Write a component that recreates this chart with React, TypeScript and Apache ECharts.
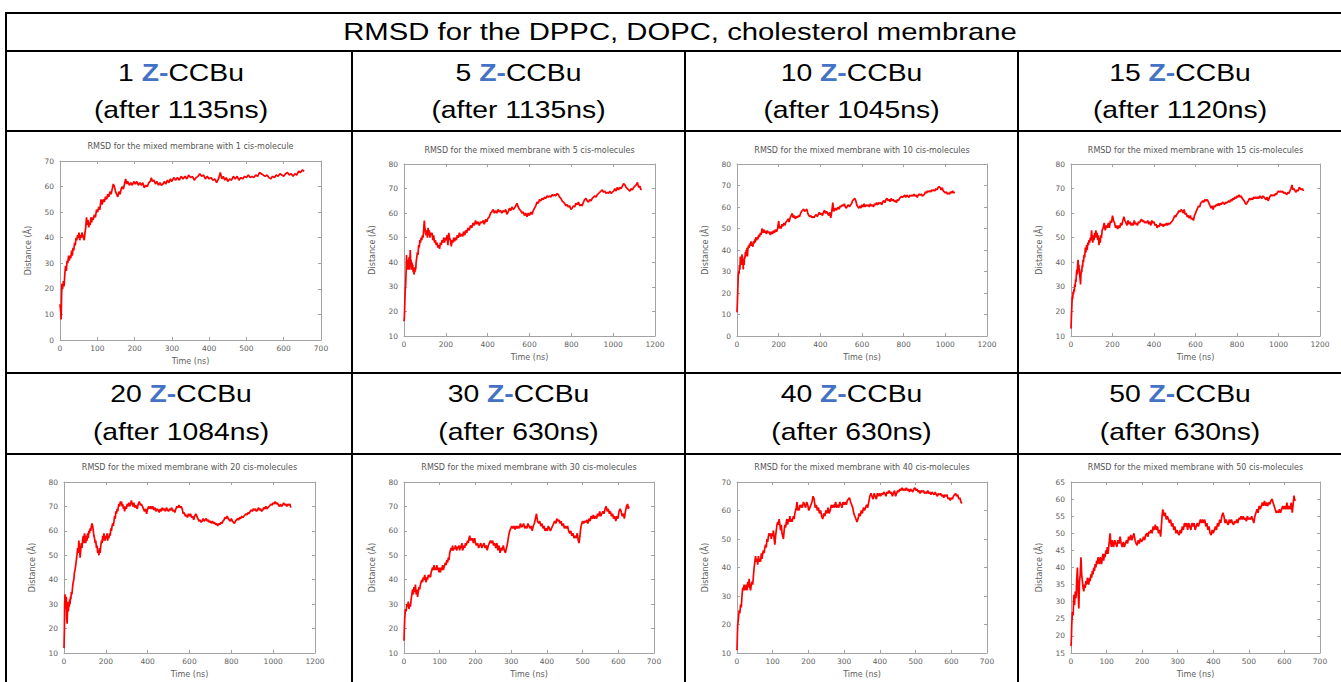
import React, { useEffect, useRef } from 'react';
import * as echarts from 'echarts';

const pageTitle = 'RMSD for the DPPC, DOPC, cholesterol membrane';
const moleculeCounts = ['1', '5', '10', '15', '20', '30', '40', '50'];
const afterLabels = ['(after 1135ns)', '(after 1135ns)', '(after 1045ns)', '(after 1120ns)', '(after 1084ns)', '(after 630ns)', '(after 630ns)', '(after 630ns)'];
const plotTitles = [
  'RMSD for the mixed membrane with 1 cis-molecule',
  'RMSD for the mixed membrane with 5 cis-molecules',
  'RMSD for the mixed membrane with 10 cis-molecules',
  'RMSD for the mixed membrane with 15 cis-molecules',
  'RMSD for the mixed membrane with 20 cis-molecules',
  'RMSD for the mixed membrane with 30 cis-molecules',
  'RMSD for the mixed membrane with 40 cis-molecules',
  'RMSD for the mixed membrane with 50 cis-molecules',
];
const xAxisName = 'Time (ns)';
const yAxisName = 'Distance (Å)';
const xMax = [700, 1200, 1200, 1200, 1200, 700, 700, 700];
const xStep = [100, 200, 200, 200, 200, 100, 100, 100];
const yMin = [0, 10, 0, 10, 10, 10, 10, 15];
const yMax = [70, 80, 80, 80, 80, 80, 70, 65];
const yStep = [10, 10, 10, 10, 10, 10, 10, 5];

const rmsd1 = [[0,14],[2,11],[3,8],[4,15],[5,22],[7,20],[9,23],[11,21],[13,26],[15,29],[17,27],[19,31],[21,30],[23,33],[25,31],[27,33],[29,32],[31,35],[33,33],[35,36],[37,35],[39,38],[41,37],[43,40],[45,39],[47,41],[49,40],[51,42],[53,39],[55,41],[57,40],[59,42],[61,41],[63,40],[65,39],[67,42],[69,44],[71,48],[73,45],[75,47],[77,44],[79,46],[81,45],[83,48],[85,46],[87,48],[89,47],[92,49],[95,48],[98,51],[101,50],[104,52],[107,51],[110,55],[113,53],[116,55],[119,54],[122,56],[125,55],[128,57],[131,56],[134,58],[137,57],[140,59],[143,61],[146,60],[149,58],[152,57],[155,56],[158,58],[161,57],[164,59],[167,60],[170,59],[173,61],[176,63],[179,61],[182,62],[186,60.5],[190,61.5],[194,60.5],[198,62],[202,61],[206,62],[210,60.5],[214,61.5],[218,60.5],[222,61.5],[226,59.5],[230,60.5],[234,60],[238,61.5],[242,62],[245,63.5],[248,62],[252,62.5],[256,61],[260,62],[264,60.5],[268,61.5],[272,60.5],[276,61],[280,62],[284,61],[288,62.5],[292,61.5],[296,63],[300,62],[305,63.5],[310,62.5],[315,63.5],[320,62.5],[325,64],[330,63],[335,64],[340,63],[345,64.5],[350,63.5],[355,64],[360,62.5],[365,63.5],[370,64],[375,65],[380,64],[385,64.5],[390,63],[395,64],[400,63],[405,63.5],[410,62.5],[415,63],[420,61.5],[425,63],[430,65.5],[434,63],[438,64],[442,62.5],[446,63.5],[450,62],[455,63],[460,62.5],[465,64],[470,63],[475,64],[480,62.5],[485,63.5],[490,63],[495,64],[500,63.5],[505,64.5],[510,63.5],[515,64],[520,63.5],[525,64.5],[530,64],[535,65.5],[540,65],[545,64.5],[550,64],[555,64.5],[560,63.5],[565,63],[570,64],[575,63.5],[580,64.5],[585,64],[590,65],[595,64.5],[600,64],[605,65],[610,65.5],[615,64.5],[620,65],[625,64],[630,65],[635,64.5],[640,66],[645,65.5],[650,66.5],[655,66]];

const rmsd5 = [[0,16],[2,18],[4,24],[6,29],[8,31],[10,36],[12,43],[14,39],[16,41],[18,37],[20,40],[22,38],[24,42],[26,37],[28,41],[30,45],[32,39],[34,41],[36,37],[38,40],[40,38],[42,39],[44,36],[46,38],[48,35],[50,37],[52,36],[54,38],[56,37],[58,40],[61,42],[64,44],[67,43],[70,47],[73,46],[76,49],[79,48],[82,50],[85,49],[88,51],[91,50],[94,53],[97,57],[100,54],[103,52],[106,51],[109,53],[112,50],[115,54],[118,51],[121,53],[124,50],[127,52],[130,51],[134,52],[138,49],[142,51],[146,48],[150,49],[154,47],[158,48],[162,46],[166,47],[170,45.5],[174,48],[178,47],[182,49],[186,48],[190,50],[194,48],[198,50],[202,49],[206,51],[210,47],[214,52],[218,50],[222,49],[226,46.5],[230,49],[234,48],[238,50],[242,48.5],[246,50],[250,49],[255,51],[260,50],[265,52],[270,50.5],[275,51.5],[280,50.5],[285,52.5],[290,51],[295,53],[300,52],[306,54],[312,53],[318,55],[324,54],[330,56],[336,55],[342,57],[348,55.5],[354,56.5],[360,55],[366,56.5],[372,56],[378,57],[384,55.5],[390,57.5],[396,56.5],[402,58],[408,58.5],[414,60],[420,60.5],[426,61.5],[432,60],[438,61],[444,60],[450,61.5],[456,60.5],[462,61],[468,60],[474,61],[480,60.5],[486,61.5],[492,59.5],[498,60.5],[504,62],[510,61],[516,62.5],[522,61.5],[528,62],[534,63],[540,64],[546,62.5],[552,61.5],[558,61],[564,60],[570,60.5],[576,59],[582,60],[588,58.5],[594,60],[600,59],[606,60.5],[612,59.5],[618,61],[624,62],[630,63],[636,64.5],[642,64],[648,65.5],[654,65],[660,66],[666,65.5],[672,66.5],[678,66],[684,67],[690,66.5],[696,67],[702,66.5],[708,67.5],[714,67],[720,67.5],[726,67],[732,68],[738,67.5],[744,66.5],[750,66],[756,65],[762,64.5],[768,64],[774,63],[780,63.5],[786,62.5],[792,63],[798,61.5],[804,62],[810,63],[816,62.5],[822,64],[828,63.5],[834,64.5],[840,63],[846,63.5],[852,63],[858,64.5],[864,65.5],[870,66],[876,65],[882,64.5],[888,65.5],[894,65],[900,66],[906,66.5],[912,67],[918,66.5],[924,67.5],[930,68],[936,68.5],[942,69],[948,69.5],[954,68.5],[960,69],[966,68],[972,68.5],[978,68],[984,69],[990,68],[996,68.5],[1002,69],[1008,70],[1014,69],[1020,70.5],[1026,69.5],[1032,70.5],[1038,70],[1044,71],[1050,72],[1056,71.5],[1062,70.5],[1068,70],[1074,69.5],[1080,69],[1086,70],[1092,69.5],[1098,70.5],[1104,71],[1110,71.5],[1116,72.5],[1122,70.5],[1128,71],[1132,69.5],[1135,70]];

const rmsd10 = [[0,11],[2,16],[4,22],[6,28],[8,30],[10,29],[12,33],[14,31],[16,37],[18,34],[20,36],[22,33],[24,38],[26,34],[28,36],[30,31],[32,35],[34,33],[36,37],[38,36],[40,39],[42,37],[44,40],[46,38],[48,41],[50,37],[52,40],[55,42],[58,41],[61,43],[64,42],[67,44],[70,42],[73,43],[76,41.5],[79,44],[82,43],[85,45],[88,43.5],[91,46],[94,44.5],[97,46],[100,45],[104,47],[108,46],[112,48],[116,47],[120,50],[124,48],[128,49.5],[132,48],[136,49],[140,47.5],[145,49],[150,48],[155,48.5],[160,47],[165,48.5],[170,47.5],[175,49],[180,48],[185,49.5],[190,48.5],[195,50],[200,53.5],[204,50],[208,51],[212,50],[216,52],[220,51],[225,52.5],[230,51.5],[235,53],[240,53.5],[245,54.5],[250,53],[255,55],[260,56],[265,57],[270,55],[275,56],[280,54.5],[285,55.5],[290,55],[295,56],[300,55.5],[305,57],[310,58],[315,58.5],[320,59],[325,58],[330,58.5],[335,59],[340,57],[345,56],[350,55.5],[355,56],[360,55],[365,55.5],[370,55],[375,56],[380,56.5],[385,55.5],[390,56.5],[395,57.5],[400,56.5],[405,57],[410,56],[415,57.5],[420,58.5],[425,57],[430,58],[435,57],[440,56],[445,57.5],[450,55],[455,58],[460,62],[464,58],[468,58.5],[472,59.5],[476,58.5],[480,59],[485,60],[490,59],[495,60.5],[500,60],[505,61],[510,60.5],[515,61.5],[520,60],[525,59.5],[530,60.5],[535,61],[540,60],[545,61],[550,61.5],[555,63],[560,63.5],[565,64],[570,63],[575,61],[580,60],[585,59.5],[590,60.5],[595,59.5],[600,61],[605,60],[610,61.5],[615,60],[620,61],[625,60.5],[630,61],[635,60],[640,61.5],[645,60.5],[650,61],[655,60],[660,61.5],[665,61],[670,62],[675,61],[680,62],[685,61.5],[690,62],[695,61],[700,62.5],[705,63],[710,62],[715,63.5],[720,64],[725,63],[730,63.5],[735,62.5],[740,64],[745,63],[750,63.5],[755,62.5],[760,63],[765,62],[770,63.5],[775,63],[780,64],[785,64.5],[790,65],[795,64.5],[800,65],[805,65.5],[810,64.5],[815,65.5],[820,65],[825,64.5],[830,65.5],[835,65],[840,65.5],[845,65],[850,66],[855,65],[860,65.5],[865,64.5],[870,65.5],[875,66],[880,65.5],[885,66],[890,65],[895,65.5],[900,66],[905,67],[910,66.5],[915,67.5],[920,67],[925,67.5],[930,67],[935,68],[940,67.5],[945,68],[950,67.5],[955,68.5],[960,68],[965,69],[970,69.5],[975,69],[980,68],[985,69],[990,67.5],[995,67],[1000,66.5],[1005,67],[1010,66],[1015,66.5],[1020,66],[1025,67],[1030,66.5],[1035,67.5],[1040,66.5],[1045,67]];

const rmsd15 = [[0,13],[2,18],[4,22],[6,26],[8,25],[10,28],[12,27],[14,29],[16,28],[18,31],[20,30],[22,33],[24,32],[26,35],[28,37],[30,35],[32,39],[34,41],[36,38],[38,39],[40,36],[42,35],[44,33],[46,31],[48,35],[50,37],[52,36],[54,39],[56,38],[58,41],[60,40],[63,43],[66,42],[69,46],[72,44],[75,47],[78,45],[81,48],[84,47],[87,49],[90,48],[93,50],[96,49],[99,53],[102,50],[105,48],[108,51],[111,49],[114,52],[117,50],[120,53],[123,50],[126,52],[129,49],[132,51],[135,47],[138,50],[141,48],[144,51],[147,50],[150,53],[155,54],[160,56],[165,53],[170,55],[175,54],[180,56],[185,54],[190,57],[195,56],[200,59],[205,57],[210,56],[215,54],[220,55],[225,53.5],[230,55],[235,54],[240,56],[245,55],[250,57],[255,58.5],[260,57],[265,56],[270,55],[275,57],[280,55.5],[285,56.5],[290,55],[295,56],[300,55],[305,57],[310,55.5],[315,56],[320,55],[325,56.5],[330,56],[335,57],[340,57.5],[345,56.5],[350,57],[355,56],[360,56.5],[365,56],[370,57],[375,55.5],[380,56.5],[385,55],[390,57],[395,56],[400,56.5],[405,55],[410,55.5],[415,54],[420,55],[425,54.5],[430,56],[435,55],[440,55.5],[445,54.5],[450,55.5],[455,55],[460,56],[465,55],[470,56],[475,55.5],[480,56],[485,56.5],[490,57],[495,58],[500,59],[505,58.5],[510,59.5],[515,60],[520,61],[525,60.5],[530,61.5],[535,61],[540,60],[545,61.5],[550,59.5],[555,60],[560,58.5],[565,59],[570,58],[575,59],[580,57.5],[585,58],[590,57],[595,59],[600,60],[605,61],[610,62],[615,63],[620,62.5],[625,64],[630,64.5],[635,65],[640,64.5],[645,65.5],[650,65],[655,65.5],[660,65],[665,64],[670,63],[675,62],[680,63],[685,61.5],[690,63],[695,62.5],[700,63.5],[705,63],[710,64],[715,63],[720,64],[725,63.5],[730,64.5],[735,64],[740,63.5],[745,64.5],[750,64],[755,64.5],[760,65],[765,64.5],[770,65.5],[775,65],[780,66],[785,65.5],[790,66.5],[795,66],[800,67],[805,66.5],[810,67.5],[815,66.5],[820,67],[825,66],[830,65.5],[835,65],[840,64],[845,63.5],[850,64.5],[855,65],[860,66],[865,65.5],[870,66],[875,65.5],[880,66.5],[885,66],[890,66.5],[895,66],[900,66.5],[905,66],[910,67],[915,66.5],[920,66],[925,67],[930,66.5],[935,66],[940,65.5],[945,66.5],[950,65],[955,66],[960,67],[965,67.5],[970,67],[975,67.5],[980,67],[985,68],[990,67.5],[995,68.5],[1000,69],[1005,68.5],[1010,69],[1015,68.5],[1020,69],[1025,68],[1030,68.5],[1035,68],[1040,67.5],[1045,68.5],[1050,68],[1055,69],[1060,70],[1065,71.5],[1070,69.5],[1075,70],[1080,69],[1085,68.5],[1090,69.5],[1095,69],[1100,70.5],[1105,70],[1110,69.5],[1115,70],[1120,69]];

const rmsd20 = [[0,12],[2,20],[3,30],[5,34],[7,31],[9,28],[11,33],[13,24],[15,22],[17,28],[19,31],[21,27],[23,30],[25,29],[27,32],[29,30],[31,33],[33,32],[35,35],[38,34],[41,37],[44,39],[47,40],[50,43],[53,44],[56,46],[59,48],[62,50],[65,53],[68,51],[71,56],[74,53],[77,49],[80,52],[83,55],[86,53],[89,56],[92,58],[95,55],[98,59],[101,57],[104,55],[107,58],[110,56],[113,59],[116,57],[119,60],[122,59],[125,61],[128,60],[131,62],[134,63],[137,62],[140,60],[143,58],[146,57],[149,55],[152,56],[155,53],[158,54],[161,51],[164,52],[167,50],[170,53],[173,51],[176,54],[179,56],[182,55],[185,58],[188,56],[191,59],[194,57],[197,56],[200,58],[203,57],[206,59],[209,56],[212,58],[215,57],[218,59],[221,58],[224,61],[227,60],[230,62],[233,63],[236,62],[239,64],[242,66],[245,65],[248,68],[251,67],[254,69],[257,68],[260,70],[263,71],[266,70],[269,72],[272,71],[275,72],[278,70],[281,71],[284,69],[287,70],[290,68],[294,70],[298,69],[302,71],[306,70],[310,71.5],[314,70],[318,71],[322,72.5],[326,71],[330,70],[334,71.5],[338,69.5],[342,70.5],[346,70],[350,69],[355,71],[360,72],[365,70.5],[370,71],[375,70],[380,69],[385,68],[390,69],[395,67],[400,69],[405,70],[410,69],[415,70],[420,69],[425,70],[430,68.5],[435,69.5],[440,68],[445,69],[450,68.5],[455,67.5],[460,69],[465,68],[470,69.5],[475,68.5],[480,69],[485,68],[490,69.5],[495,68.5],[500,68],[505,69],[510,68.5],[515,69.5],[520,68],[525,68.5],[530,67.5],[535,69],[540,70],[545,69.5],[550,70.5],[555,69.5],[560,70],[565,69],[570,67],[575,67.5],[580,66],[585,66.5],[590,65.5],[595,67],[600,66],[605,67],[610,65.5],[615,66],[620,64.5],[625,66],[630,67],[635,66],[640,65],[645,64],[650,64.5],[655,63.5],[660,64],[665,65],[670,64],[675,64.5],[680,65],[685,64],[690,64.5],[695,63.5],[700,64],[705,63],[710,64],[715,63],[720,63.5],[725,62.5],[730,63],[735,62],[740,63],[745,62.5],[750,63.5],[755,63],[760,64],[765,64.5],[770,65.5],[775,65],[780,66],[785,65],[790,64.5],[795,64],[800,65],[805,64],[810,63.5],[815,63],[820,64],[825,64.5],[830,65],[835,64.5],[840,65.5],[845,65],[850,66],[855,65.5],[860,66],[865,66.5],[870,67],[875,66.5],[880,67.5],[885,67],[890,68],[895,68.5],[900,68],[905,69],[910,68.5],[915,69],[920,68],[925,68.5],[930,69.5],[935,68.5],[940,69],[945,68],[950,68.5],[955,69.5],[960,69],[965,70],[970,69],[975,69.5],[980,70],[985,70.5],[990,71],[995,70.5],[1000,71.5],[1005,71],[1010,72],[1015,71],[1020,71.5],[1025,70.5],[1030,70],[1035,71],[1040,70],[1045,70.5],[1050,71.5],[1055,70.5],[1060,71],[1065,70],[1070,71],[1075,70.5],[1080,71],[1084,69.5]];

const rmsd30 = [[0,15],[1,20],[2,24],[4,28],[6,27],[8,30],[10,29],[12,31],[14,28],[16,30],[18,29],[20,32],[22,34],[24,36],[26,34],[28,37],[30,35],[32,38],[34,34],[36,36],[38,33],[40,35],[42,37],[44,36],[46,38],[48,39],[50,40],[52,39],[54,41],[56,40],[58,42],[60,40],[62,39],[64,41],[66,40],[68,42],[70,41],[72,42],[74,41],[76,43],[78,44],[80,45],[82,44],[84,46],[86,44],[88,45],[90,44],[92,46],[94,44],[96,45],[98,43],[100,45],[102,43],[104,45],[106,44],[108,46],[110,44],[112,45],[114,46],[116,47],[118,46],[120,48],[122,47],[124,49],[126,48],[128,51],[130,52],[132,53],[134,52],[136,54],[138,52],[140,53],[142,52.5],[144,54],[146,53],[148,52],[150,53.5],[152,53],[154,54],[156,52],[158,54],[160,53],[162,55],[164,52],[166,53],[168,54],[170,53],[172,55],[174,54],[176,55],[178,56],[180,55],[182,57],[184,58],[186,56],[188,57],[190,56],[192,57],[194,55],[196,56],[198,57],[200,55],[203,54],[206,55],[209,53],[212,54],[215,55],[218,53],[221,54],[224,55],[227,53],[230,54],[233,52],[236,54],[239,55],[242,56],[245,55],[248,56],[251,54],[254,55],[257,53],[260,55],[263,52],[266,54],[269,51],[272,53],[275,52],[278,54],[281,52],[284,51],[287,53],[290,55],[293,58],[296,60],[299,61],[302,62],[305,61],[308,62],[311,60.5],[314,62],[317,61],[320,62],[323,61],[326,63],[329,61.5],[332,62],[335,63],[338,61],[341,62],[344,61],[347,63],[350,62],[353,61],[356,62],[359,60],[362,62],[365,63],[368,65],[371,67],[374,64],[377,63],[380,64],[383,62],[386,63],[389,61],[392,62],[395,60],[398,61],[401,60],[404,62],[407,61],[410,60],[413,61],[416,62],[419,63],[422,64],[425,63],[428,65],[431,64],[434,64.5],[437,63],[440,64],[443,62],[446,63],[449,61],[452,62],[455,61],[458,62],[461,60],[464,59],[467,60],[470,58],[473,59],[476,57],[479,58],[482,57],[485,59],[488,56],[490,55],[492,57],[494,60],[496,62],[498,63],[500,64],[503,63],[506,64],[509,63.5],[512,64.5],[515,63],[518,65],[521,64],[524,66],[527,65],[530,66.5],[533,65],[536,66],[539,65],[542,67],[545,66],[548,68],[551,66],[554,67],[557,68],[560,67],[563,69],[566,70],[569,68],[572,69],[575,67],[578,68],[581,66],[584,67],[587,65],[590,66],[593,64],[596,66],[599,65],[602,68],[605,69],[608,68],[611,66],[614,67],[617,65],[620,68],[623,70],[626,71],[628,69],[630,70]];

const rmsd40 = [[0,11],[1,16],[2,20],[4,22],[6,25],[8,24],[10,27],[12,26],[14,30],[16,33],[18,32],[20,34],[22,32],[24,33],[26,34],[28,32],[30,35],[32,33],[34,36],[36,33],[38,32],[40,34],[42,35],[44,34],[46,37],[48,40],[50,42],[52,44],[54,42],[56,43],[58,41],[60,44],[62,42],[64,43],[66,42],[68,45],[70,43],[72,45],[74,46],[76,45],[78,47],[80,48],[82,47],[84,50],[86,49],[88,51],[90,52],[92,51],[94,52],[96,50],[98,52],[100,51],[102,53],[104,50],[106,48],[108,51],[110,53],[112,55],[114,56],[116,55],[118,57],[120,55],[122,53],[124,55],[126,52],[128,51],[130,50],[132,53],[134,55],[136,54],[138,56],[140,57],[142,55],[144,57],[146,56],[148,58],[150,56],[152,57],[154,56],[156,57],[158,58],[160,57],[162,59],[164,60],[166,61],[168,63],[170,60],[172,61],[174,60],[176,62],[178,61],[180,62],[183,61],[186,63],[189,62],[192,61],[195,63],[198,62],[201,60],[204,61],[207,62],[210,63],[213,65],[216,64],[219,61],[222,62],[225,60],[228,61],[231,59],[234,60],[237,58],[240,57],[243,59],[246,58],[249,60],[252,59],[255,61],[258,59],[261,60],[264,62],[267,61],[270,62],[273,61],[276,63],[279,61],[282,62],[285,61],[288,63],[291,62],[294,61],[297,63],[300,62],[303,63],[306,62],[309,63.5],[312,64],[315,64.5],[318,63],[321,62],[324,61],[327,59],[330,58],[333,57],[336,56],[339,57],[342,59],[345,58],[348,60],[351,59],[354,61],[357,60],[360,61],[363,62],[366,61],[369,63],[372,65],[375,66],[378,65],[381,64],[384,66],[387,65],[390,64],[393,66],[396,65],[399,66],[402,65],[405,66],[408,65.5],[411,66.5],[414,66],[417,65],[420,66.5],[423,66],[426,67],[429,66],[432,66.5],[435,65],[438,66],[441,67],[444,65],[447,66],[450,67],[453,66.5],[456,67.5],[459,67],[462,68],[465,67],[468,67.5],[471,67],[474,68],[477,67],[480,67.5],[483,66.5],[486,67.5],[489,67],[492,66.5],[495,67.5],[498,68],[501,67],[504,67.5],[507,66.5],[510,67],[513,66],[516,67],[519,66.5],[522,67],[525,66],[528,66.5],[531,66],[534,67],[537,66],[540,66.5],[543,65.5],[546,66.5],[549,66],[552,65.5],[555,66.5],[558,65.5],[561,65],[564,66],[567,65.5],[570,66],[573,65],[576,65.5],[579,64.5],[582,65.5],[585,65],[588,65.5],[591,64],[594,64.5],[597,63.5],[600,64.5],[603,64],[606,65],[609,65.5],[612,66],[615,65],[618,65.5],[621,64],[624,64.5],[627,63],[630,62.5]];

const rmsd50 = [[0,17],[1,19],[2,23],[4,27],[6,26],[8,32],[10,29],[12,33],[14,31],[16,36],[18,40],[20,33],[22,28],[24,36],[26,38],[28,43],[30,38],[32,36],[34,34],[36,33],[38,35],[40,34],[42,36],[44,35],[46,37],[48,36],[50,35],[52,37],[54,36],[56,38],[58,37],[60,39],[62,38],[64,40],[66,39],[68,41],[70,40],[72,42],[74,41],[76,43],[78,42],[80,41],[82,43],[84,42],[86,41],[88,43],[90,44],[92,42],[94,44],[96,43],[98,45],[100,44],[102,46],[104,44],[106,46],[108,48],[110,50],[112,47],[114,46],[116,48],[118,47],[120,46],[123,48],[126,47],[129,46],[132,48],[135,47],[138,49],[141,47],[144,46],[147,47.5],[150,46],[153,47],[156,48],[159,47],[162,49],[165,48],[168,49.5],[171,48],[174,49],[177,50],[180,48],[183,47],[186,46.5],[189,48],[192,47],[195,48.5],[198,47.5],[201,48],[204,49],[207,48],[210,49.5],[213,50],[216,49],[219,50.5],[222,50],[225,51],[228,50],[231,52],[234,51],[237,52.5],[240,51],[243,52],[246,50],[249,51],[252,49],[254,52],[256,55],[258,57],[260,56],[262,55],[265,56],[268,54],[271,55],[274,54],[277,53],[280,54],[283,52],[286,53],[289,51],[292,52],[295,50],[298,51],[301,50],[304,49.5],[307,51],[310,50],[313,52],[316,51],[319,53],[322,52],[325,53],[328,51],[331,53],[334,52],[337,51],[340,53],[343,52],[346,53],[349,51],[352,52],[355,53],[358,52],[361,53],[364,54],[367,53],[370,54],[373,53],[376,54],[379,52],[382,53],[385,51],[388,52],[391,50],[394,49.5],[397,51],[400,50],[403,51],[406,52],[409,51],[412,53],[415,52],[418,54],[421,53],[424,55],[427,56],[430,55],[433,53],[436,54],[439,53],[442,52.5],[445,54],[448,53],[451,54],[454,53],[457,52.5],[460,53.5],[463,53],[466,54],[469,53],[472,54.5],[475,54],[478,55],[481,54],[484,55],[487,54],[490,54.5],[493,53.5],[496,55],[499,54],[502,54.5],[505,54],[508,55],[511,54],[514,53],[517,55],[520,56],[523,57],[526,56],[529,58],[532,57],[535,58],[538,59],[541,58],[544,59.5],[547,58],[550,59],[553,58],[556,59],[559,58.5],[562,59.5],[565,60],[568,59],[571,58],[574,57],[577,56],[580,56.5],[583,56],[586,57],[589,56],[592,57],[595,58],[598,57],[601,58],[604,57],[607,59],[610,57],[613,58],[616,57],[619,59],[622,56],[625,59],[627,61],[629,59.5],[630,60]];

const allSeries = [rmsd1, rmsd5, rmsd10, rmsd15, rmsd20, rmsd30, rmsd40, rmsd50];

// layout (pixels)
const W = 1341;
const H = 682;
const gridBoxes = [
  [60, 161, 261, 179],
  [404, 164, 251, 172],
  [737, 164, 250, 172],
  [1071, 164, 249, 172],
  [64, 482, 251, 171],
  [404, 482, 250, 171],
  [737, 482, 250, 171],
  [1071, 482, 249, 171],
];
const colCenters = [181, 518.5, 851.5, 1180];
const headerY = [[73, 110], [394, 432]];

const FRAME = '#a3a3a3';
const LABEL = '#5e5e5e';
const SMALL_FONT = 'DejaVu Sans';
const BIG_FONT = 'Liberation Sans';

function buildOption() {
  const grid: any[] = [];
  const xAxis: any[] = [];
  const yAxis: any[] = [];
  const series: any[] = [];
  const graphic: any[] = [];

  const tick = { show: true, inside: true, length: 3, lineStyle: { color: FRAME, width: 1 } };
  const line = { show: true, onZero: false, lineStyle: { color: FRAME, width: 1 } };
  const label = { fontFamily: SMALL_FONT, fontSize: 7.5, color: LABEL };
  const plain = (v: number) => String(v);

  gridBoxes.forEach((b, i) => {
    const [left, top, width, height] = b;
    grid.push({ left, top, width, height, containLabel: false });
    const xCommon = { type: 'value', gridIndex: i, min: 0, max: xMax[i], interval: xStep[i], splitLine: { show: false }, axisLine: line, axisTick: tick };
    const yCommon = { type: 'value', gridIndex: i, min: yMin[i], max: yMax[i], interval: yStep[i], splitLine: { show: false }, axisLine: line, axisTick: tick };
    xAxis.push({
      ...xCommon, position: 'bottom',
      axisLabel: { ...label, margin: 4, formatter: plain, showMinLabel: true, showMaxLabel: true, hideOverlap: false },
      name: xAxisName, nameLocation: 'middle', nameGap: 17,
      nameTextStyle: { ...label, fontSize: 8 },
    });
    xAxis.push({ ...xCommon, position: 'top', axisLabel: { show: false } });
    yAxis.push({
      ...yCommon, position: 'left',
      axisLabel: { ...label, margin: 6, formatter: plain, showMinLabel: true, showMaxLabel: true, hideOverlap: false },
      name: yAxisName, nameLocation: 'middle', nameGap: 28, nameRotate: 90,
      nameTextStyle: { ...label, fontSize: 8 },
    });
    yAxis.push({ ...yCommon, position: 'right', axisLabel: { show: false } });
    series.push({
      type: 'line', xAxisIndex: 2 * i, yAxisIndex: 2 * i,
      data: allSeries[i], showSymbol: false, symbol: 'none', silent: true,
      lineStyle: { color: '#ff0000', width: 1.7 },
      z: 3,
    });
    graphic.push({
      type: 'text', x: left + width / 2, y: top - (i === 0 || i >= 4 ? 15 : 14),
      style: { text: plotTitles[i], fontFamily: SMALL_FONT, fontSize: 8, fill: '#555555', align: 'center', verticalAlign: 'middle' },
    });
  });

  // table lines
  const hLines = [13, 51, 131, 373, 454];
  hLines.forEach((y) => {
    graphic.push({ type: 'rect', shape: { x: 5, y: y - 1, width: W - 5, height: 2 }, style: { fill: '#000' } });
  });
  graphic.push({ type: 'rect', shape: { x: 5, y: 12, width: 2, height: H - 12 }, style: { fill: '#000' } });
  [352, 685, 1018].forEach((x) => {
    graphic.push({ type: 'rect', shape: { x: x - 1, y: 51, width: 2, height: H - 51 }, style: { fill: '#000' } });
  });

  // page title
  graphic.push({
    type: 'text', x: 680, y: 32, scaleX: 1.22,
    style: { text: pageTitle, fontFamily: BIG_FONT, fontSize: 24, fill: '#000', align: 'center', verticalAlign: 'middle' },
  });

  // headers
  moleculeCounts.forEach((c, i) => {
    const row = i < 4 ? 0 : 1;
    const cx = colCenters[i % 4];
    graphic.push({
      type: 'text', x: cx, y: headerY[row][0], scaleX: 1.18,
      style: {
        text: `{n|${c} }{z|Z-}{n|CCBu}`,
        align: 'center', verticalAlign: 'middle',
        rich: {
          n: { fontFamily: BIG_FONT, fontSize: 24, fill: '#000', color: '#000' },
          z: { fontFamily: BIG_FONT, fontSize: 24, fontWeight: 'bold', fill: '#4472c4', color: '#4472c4' },
        },
      },
    });
    graphic.push({
      type: 'text', x: cx, y: headerY[row][1], scaleX: 1.18,
      style: { text: afterLabels[i], fontFamily: BIG_FONT, fontSize: 24, fill: '#000', align: 'center', verticalAlign: 'middle' },
    });
  });

  return {
    animation: false,
    backgroundColor: '#ffffff',
    grid, xAxis, yAxis, series, graphic,
  };
}

export default function App() {
  const ref = useRef<HTMLDivElement>(null);
  useEffect(() => {
    if (!ref.current) return;
    const chart = echarts.init(ref.current, undefined, { renderer: 'svg' });
    chart.setOption(buildOption() as any);
    return () => chart.dispose();
  }, []);
  return <div ref={ref} style={{ position: 'absolute', left: 0, top: 0, width: W, height: H }} />;
}
